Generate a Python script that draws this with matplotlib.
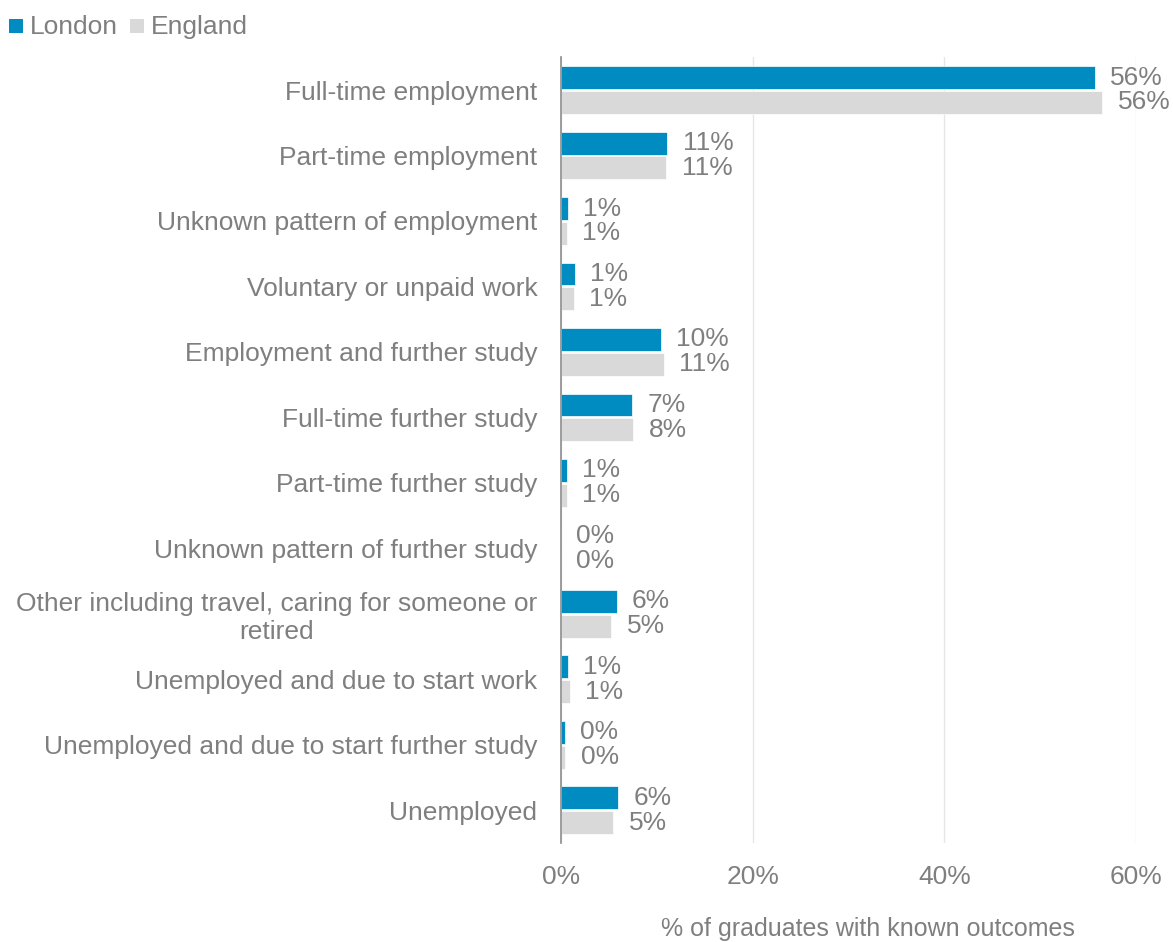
import matplotlib
matplotlib.use("Agg")
import matplotlib.pyplot as plt
from matplotlib.patches import Rectangle
import numpy as np

plt.rcParams['font.family'] = ['Liberation Sans', 'DejaVu Sans']

categories = [
    "Full-time employment",
    "Part-time employment",
    "Unknown pattern of employment",
    "Voluntary or unpaid work",
    "Employment and further study",
    "Full-time further study",
    "Part-time further study",
    "Unknown pattern of further study",
    "Other including travel, caring for someone or\nretired",
    "Unemployed and due to start work",
    "Unemployed and due to start further study",
    "Unemployed",
]
london = [55.7, 11.1, 0.7, 1.45, 10.4, 7.45, 0.6, 0.0, 5.8, 0.75, 0.4, 5.95]
england = [56.5, 11.0, 0.6, 1.35, 10.75, 7.55, 0.6, 0.0, 5.25, 0.95, 0.45, 5.45]
series_names = ["London", "England"]
xticks = [0, 20, 40, 60]

BLUE = "#008CC1"
GREY = "#D9D9D9"
TEXT = "#7F7F7F"

W, H = 1173, 942
fig = plt.figure(figsize=(W / 100, H / 100), dpi=100)
ax = fig.add_axes([561 / W, 1 - 843 / H, 575 / W, (843 - 57.3) / H])

y = np.arange(len(categories))
bar_h = 0.35
off = 0.19
ax.barh(y - off, london, height=bar_h, color=BLUE, edgecolor="white", linewidth=0.5, zorder=3)
ax.barh(y + off, england, height=bar_h, color=GREY, edgecolor="white", linewidth=0.5, zorder=3)

for yi, v in zip(y, london):
    ax.annotate(f"{v:.0f}%", (v, yi - off), xytext=(11, 0), textcoords="offset points",
                va="center", ha="left", fontsize=19, color=TEXT)
for yi, v in zip(y, england):
    ax.annotate(f"{v:.0f}%", (v, yi + off), xytext=(11, 0), textcoords="offset points",
                va="center", ha="left", fontsize=19, color=TEXT)

ax.set_xlim(0, 60)
ax.set_ylim(len(categories) - 0.5, -0.5)
ax.set_xticks(xticks)
ax.set_xticklabels([f"{t}%" for t in xticks])
ax.set_yticks(y)
ax.set_yticklabels(categories, multialignment="center")
ax.tick_params(axis="both", length=0, labelsize=19, labelcolor=TEXT)
ax.tick_params(axis="x", pad=16)
ax.tick_params(axis="y", pad=17)

ax.grid(axis="x", color="#E6E6E6", linewidth=1, zorder=0)
for s in ["top", "right", "bottom"]:
    ax.spines[s].set_visible(False)
ax.spines["left"].set_color("#8C8C8C")
ax.spines["left"].set_linewidth(1.2)
ax.spines["left"].set_zorder(4)

fig.text(868 / W, 1 - 929 / H, "% of graduates with known outcomes", ha="center", va="center",
         fontsize=18, color=TEXT)

# legend drawn in figure coordinates
fig.add_artist(Rectangle((9 / W, 1 - 33 / H), 13.5 / W, 13.5 / H, transform=fig.transFigure,
                         color=BLUE, lw=0))
fig.text(30 / W, 1 - 27 / H, series_names[0], ha="left", va="center", fontsize=19, color=TEXT)
fig.add_artist(Rectangle((130 / W, 1 - 33 / H), 13.5 / W, 13.5 / H, transform=fig.transFigure,
                         color=GREY, lw=0))
fig.text(151 / W, 1 - 27 / H, series_names[1], ha="left", va="center", fontsize=19, color=TEXT)

fig.savefig("out.png", dpi=100, facecolor="white")
